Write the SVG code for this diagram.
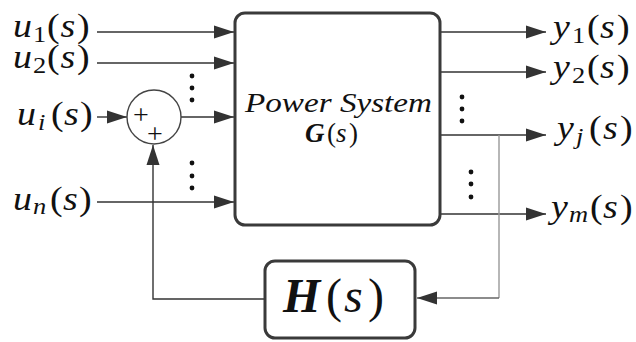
<svg xmlns="http://www.w3.org/2000/svg" width="636" height="342" viewBox="0 0 636 342">
<defs>
<marker id="arr" markerUnits="userSpaceOnUse" markerWidth="20" markerHeight="14" refX="20" refY="7" orient="auto">
<path d="M0,0.5 L20,7 L0,13.5 z" fill="#333"/>
</marker>
</defs>
<g id="connectors" stroke="#333" stroke-width="1.4" fill="none">
<line x1="97" y1="32" x2="234" y2="32" marker-end="url(#arr)"/>
<line x1="97" y1="63" x2="234" y2="63" marker-end="url(#arr)"/>
<line x1="97" y1="117" x2="127" y2="117" marker-end="url(#arr)"/>
<line x1="181" y1="117" x2="234" y2="117" marker-end="url(#arr)"/>
<line x1="97" y1="202" x2="234" y2="202" marker-end="url(#arr)"/>
<polyline points="265,299 153,299 153,145" marker-end="url(#arr)"/>
<line x1="440" y1="32" x2="546" y2="32" marker-end="url(#arr)"/>
<line x1="440" y1="72" x2="546" y2="72" marker-end="url(#arr)"/>
<line x1="440" y1="135" x2="546" y2="135" marker-end="url(#arr)"/>
<line x1="440" y1="214" x2="546" y2="214" marker-end="url(#arr)"/>
<line x1="499" y1="135" x2="499" y2="298" stroke="#999"/>
<line x1="499" y1="298" x2="417" y2="298" stroke="#666" marker-end="url(#arr)"/>
</g>
<g id="dots" fill="#111">
<circle cx="192" cy="76" r="2.4"/><circle cx="192" cy="88" r="2.4"/><circle cx="192" cy="100" r="2.4"/>
<circle cx="192" cy="163" r="2.4"/><circle cx="192" cy="176" r="2.4"/><circle cx="192" cy="188" r="2.4"/>
<circle cx="462" cy="97" r="2.4"/><circle cx="462" cy="109" r="2.4"/><circle cx="462" cy="121" r="2.4"/>
<circle cx="471" cy="172" r="2.4"/><circle cx="471" cy="184" r="2.4"/><circle cx="471" cy="197" r="2.4"/>
</g>
<g id="sum" font-family="Liberation Serif" fill="#111">
<circle cx="154" cy="117" r="27" fill="#fff" stroke="#444" stroke-width="1.4"/>
<text x="141" y="124" font-family="Liberation Serif" font-size="28" text-anchor="middle">+</text>
<text x="155" y="143" font-family="Liberation Serif" font-size="28" text-anchor="middle">+</text>
</g>
<g id="plant" font-family="Liberation Serif" fill="#111">
<rect x="235" y="13" width="205" height="212" rx="10" fill="#fff" stroke="#3a3a3a" stroke-width="3"/>
<text font-family="Liberation Serif" font-style="italic" x="245" y="112" font-size="27" textLength="187" lengthAdjust="spacingAndGlyphs">Power System</text>
<text font-family="Liberation Serif" y="142" font-size="27"><tspan x="305" font-weight="bold" font-style="italic">G</tspan><tspan x="327">(</tspan><tspan x="336" font-style="italic">s</tspan><tspan x="349">)</tspan></text>
</g>
<g id="feedback" font-family="Liberation Serif" fill="#111">
<rect x="265" y="261" width="150" height="77" rx="10" fill="#fff" stroke="#3a3a3a" stroke-width="3"/>
<text font-family="Liberation Serif" y="312" font-size="48"><tspan x="283" font-weight="bold" font-style="italic">H</tspan><tspan x="326">(</tspan><tspan x="344" font-style="italic">s</tspan><tspan x="368">)</tspan></text>
</g>
<g id="input-labels" font-family="Liberation Serif" font-size="33" fill="#111">
<text font-family="Liberation Serif" transform="matrix(1.15,0,0,1,13,37)"><tspan font-style="italic" x="0" y="0">u</tspan><tspan font-size="23" x="17.4" y="5">1</tspan><tspan x="29.6" y="0">(</tspan><tspan font-style="italic" x="41.3">s</tspan><tspan x="55.7">)</tspan></text>
<text font-family="Liberation Serif" transform="matrix(1.15,0,0,1,13,68)"><tspan font-style="italic" x="0" y="0">u</tspan><tspan font-size="23" x="17.4" y="5">2</tspan><tspan x="29.6" y="0">(</tspan><tspan font-style="italic" x="41.3">s</tspan><tspan x="55.7">)</tspan></text>
<text font-family="Liberation Serif" transform="matrix(1.15,0,0,1,17,125)"><tspan font-style="italic" x="0" y="0">u</tspan><tspan font-size="23" font-style="italic" x="18.3" y="5">i</tspan><tspan x="29.6" y="0">(</tspan><tspan font-style="italic" x="40.9">s</tspan><tspan x="54.8">)</tspan></text>
<text font-family="Liberation Serif" transform="matrix(1.15,0,0,1,13,210)"><tspan font-style="italic" x="0" y="0">u</tspan><tspan font-size="23" font-style="italic" x="17.4" y="4">n</tspan><tspan x="32.2" y="0">(</tspan><tspan font-style="italic" x="43.5">s</tspan><tspan x="57.4">)</tspan></text>
</g>
<g id="output-labels" font-family="Liberation Serif" font-size="33" fill="#111">
<text font-family="Liberation Serif" transform="matrix(1.15,0,0,1,553,38)"><tspan font-style="italic" x="0" y="0">y</tspan><tspan font-size="23" x="16.5" y="5">1</tspan><tspan x="29.6" y="0">(</tspan><tspan font-style="italic" x="40.9">s</tspan><tspan x="55.7">)</tspan></text>
<text font-family="Liberation Serif" transform="matrix(1.15,0,0,1,553,78)"><tspan font-style="italic" x="0" y="0">y</tspan><tspan font-size="23" x="16.5" y="5">2</tspan><tspan x="29.6" y="0">(</tspan><tspan font-style="italic" x="40.9">s</tspan><tspan x="55.7">)</tspan></text>
<text font-family="Liberation Serif" transform="matrix(1.15,0,0,1,557,139)"><tspan font-style="italic" x="0" y="0">y</tspan><tspan font-size="23" font-style="italic" x="16.5" y="5">j</tspan><tspan x="27.8" y="0">(</tspan><tspan font-style="italic" x="40">s</tspan><tspan x="54.8">)</tspan></text>
<text font-family="Liberation Serif" transform="matrix(1.15,0,0,1,551,218)"><tspan font-style="italic" x="0" y="0">y</tspan><tspan font-size="23" font-style="italic" x="15.7" y="4">m</tspan><tspan x="33.9" y="0">(</tspan><tspan font-style="italic" x="45.2">s</tspan><tspan x="60">)</tspan></text>
</g>
</svg>
